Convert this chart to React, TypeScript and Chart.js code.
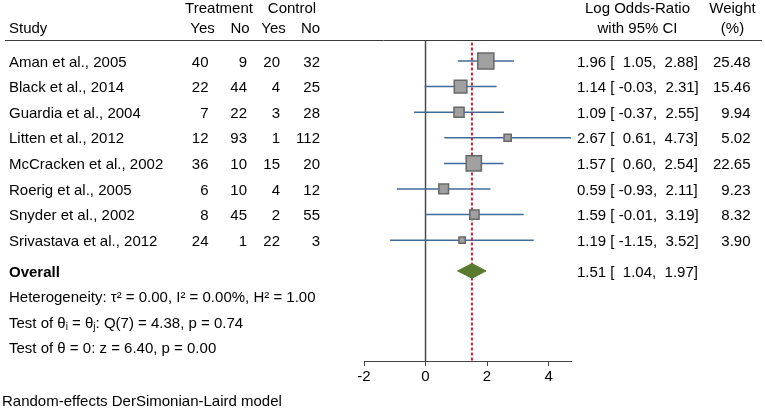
import { useEffect, useRef } from "react";
import { Chart, registerables } from "chart.js";

Chart.register(...registerables);

const FONT = '"Liberation Sans", Arial, Helvetica, sans-serif';

// ---- data ----
const studies = [
  "Aman et al., 2005",
  "Black et al., 2014",
  "Guardia et al., 2004",
  "Litten et al., 2012",
  "McCracken et al., 2002",
  "Roerig et al., 2005",
  "Snyder et al., 2002",
  "Srivastava et al., 2012",
];
const treatYes = [40, 22, 7, 12, 36, 6, 8, 24];
const treatNo = [9, 44, 22, 93, 10, 10, 45, 1];
const ctrlYes = [20, 4, 3, 1, 15, 4, 2, 22];
const ctrlNo = [32, 25, 28, 112, 20, 12, 55, 3];
const logOR = [1.96, 1.14, 1.09, 2.67, 1.57, 0.59, 1.59, 1.19];
const ciLow = [1.05, -0.03, -0.37, 0.61, 0.6, -0.93, -0.01, -1.15];
const ciHigh = [2.88, 2.31, 2.55, 4.73, 2.54, 2.11, 3.19, 3.52];
const weights = [25.48, 15.46, 9.94, 5.02, 22.65, 9.23, 8.32, 3.9];
const overall = [1.51, 1.04, 1.97]; // estimate, low, high
const heterogeneity = [0.0, 0.0, 1.0]; // tau2, I2 (%), H2
const qTest = [7, 4.38, 0.74]; // df, Q, p
const zTest = [6.4, 0.0]; // z, p
const xTickValues = [-2, 0, 2, 4];
const X_MIN = -2;
const X_MAX = 4.73;

// row layout (value units on the hidden y scale)
const Y_MIN = -0.82;
const Y_MAX = 11.72;
const ROW_OVERALL = 8.2;
const TEXT_ROWS = [9.2, 10.2, 11.2];
const DIAMOND_HALF = 0.285;

const f2 = (v: number) => v.toFixed(2);
const p5 = (v: number) => f2(v).padStart(5, " ");

const textPlugin = {
  id: "forestText",
  afterDraw(chart: any) {
    const ctx: CanvasRenderingContext2D = chart.ctx;
    const ys = chart.scales.y;
    const area = chart.chartArea;
    ctx.save();
    // header rule
    ctx.strokeStyle = "#3a3a3a";
    ctx.lineWidth = 1;
    ctx.beginPath();
    ctx.moveTo(5, Math.round(area.top) + 0.5);
    ctx.lineTo(762, Math.round(area.top) + 0.5);
    ctx.stroke();

    ctx.fillStyle = "#000";
    ctx.textBaseline = "middle";
    const normal = `15px ${FONT}`;
    ctx.font = normal;
    const t = (s: string, x: number, y: number, align: CanvasTextAlign) => {
      ctx.textAlign = align;
      ctx.fillText(s, x, y);
    };

    // headers
    t("Treatment", 219, 9, "center");
    t("Control", 292, 9, "center");
    t("Study", 9, 29, "left");
    t("Yes", 202.5, 29, "center");
    t("No", 240, 29, "center");
    t("Yes", 273.5, 29, "center");
    t("No", 310.5, 29, "center");
    t("Log Odds-Ratio", 637.5, 9, "center");
    t("with 95% CI", 637.5, 29, "center");
    t("Weight", 732.5, 9, "center");
    t("(%)", 732.5, 29, "center");

    const ciText = (est: number, lo: number, hi: number, y: number) => {
      t(`${f2(est)} [ ${p5(lo)}, ${p5(hi)}]`, 577, y, "left");
    };

    studies.forEach((s, i) => {
      const y = ys.getPixelForValue(i) + 1.5;
      t(s, 9, y, "left");
      t(String(treatYes[i]), 208.5, y, "right");
      t(String(treatNo[i]), 247, y, "right");
      t(String(ctrlYes[i]), 280, y, "right");
      t(String(ctrlNo[i]), 320, y, "right");
      ciText(logOR[i], ciLow[i], ciHigh[i], y);
      t(f2(weights[i]), 750.5, y, "right");
    });

    const yo = ys.getPixelForValue(ROW_OVERALL) + 1.5;
    ctx.font = `bold 15px ${FONT}`;
    t("Overall", 9, yo, "left");
    ctx.font = normal;
    ciText(overall[0], overall[1], overall[2], yo);

    const rich = (parts: [string, number][], x: number, y: number) => {
      let cx = x;
      ctx.textAlign = "left";
      for (const [s, mode] of parts) {
        ctx.font = mode === 0 ? normal : `10px ${FONT}`;
        ctx.fillText(s, cx, mode === 0 ? y : y + 4);
        cx += ctx.measureText(s).width;
      }
      ctx.font = normal;
    };

    const y1 = ys.getPixelForValue(TEXT_ROWS[0]) + 1.5;
    const y2 = ys.getPixelForValue(TEXT_ROWS[1]) + 1.5;
    const y3 = ys.getPixelForValue(TEXT_ROWS[2]) + 1.5;
    rich(
      [[
        `Heterogeneity: \u03c4\u00b2 = ${f2(heterogeneity[0])}, I\u00b2 = ${f2(heterogeneity[1])}%, H\u00b2 = ${f2(heterogeneity[2])}`,
        0,
      ]],
      9,
      y1
    );
    rich(
      [
        ["Test of \u03b8", 0],
        ["i", 1],
        [" = \u03b8", 0],
        ["j", 1],
        [`: Q(${qTest[0]}) = ${f2(qTest[1])}, p = ${f2(qTest[2])}`, 0],
      ],
      9,
      y2
    );
    rich([[`Test of \u03b8 = 0: z = ${f2(zTest[0])}, p = ${f2(zTest[1])}`, 0]], 9, y3);

    t("Random-effects DerSimonian-Laird model", 2, 402, "left");
    ctx.restore();
  },
};

export default function App() {
  const ref = useRef<HTMLCanvasElement | null>(null);

  useEffect(() => {
    if (!ref.current) return;
    const ciSets = studies.map((_, i) => ({
      type: "scatter" as const,
      data: [
        { x: ciLow[i], y: i },
        { x: ciHigh[i], y: i },
      ],
      showLine: true,
      borderColor: "#3f6a9b",
      borderWidth: 1.5,
      pointRadius: 0,
      order: 3,
    }));

    const chart = new Chart(ref.current, {
      type: "scatter",
      data: {
        datasets: [
          {
            data: logOR.map((v, i) => ({ x: v, y: i })),
            pointStyle: "rect",
            pointRadius: weights.map((w) => (3.2 * Math.sqrt(w)) / Math.SQRT2),
            backgroundColor: "#a0a0a0",
            borderColor: "#686868",
            borderWidth: 1.5,
            order: 0,
          },
          {
            data: [
              { x: overall[1], y: ROW_OVERALL },
              { x: overall[0], y: ROW_OVERALL - DIAMOND_HALF },
              { x: overall[2], y: ROW_OVERALL },
              { x: overall[0], y: ROW_OVERALL + DIAMOND_HALF },
              { x: overall[1], y: ROW_OVERALL },
            ],
            showLine: true,
            fill: "shape",
            backgroundColor: "#5a7b2f",
            borderColor: "#5a7b2f",
            borderWidth: 1,
            pointRadius: 0,
            tension: 0,
            order: 1,
          },
          {
            data: [
              { x: overall[0], y: Y_MIN + 0.1 },
              { x: overall[0], y: Y_MAX },
            ],
            showLine: true,
            borderColor: "#d7263a",
            borderWidth: 2,
            borderDash: [3, 2],
            pointRadius: 0,
            order: 2,
          },
          ...ciSets,
          {
            data: [
              { x: 0, y: Y_MIN },
              { x: 0, y: Y_MAX },
            ],
            showLine: true,
            borderColor: "#4a4a4a",
            borderWidth: 1.5,
            pointRadius: 0,
            order: 4,
          },
        ] as any,
      },
      options: {
        animation: false,
        responsive: false,
        events: [],
        layout: { padding: { left: 364, right: 194, top: 40, bottom: 0 } },
        plugins: { legend: { display: false }, tooltip: { enabled: false } },
        scales: {
          x: {
            type: "linear",
            min: X_MIN,
            max: X_MAX,
            afterBuildTicks: (scale: any) => {
              scale.ticks = xTickValues.map((v) => ({ value: v }));
            },
            afterFit: (scale: any) => {
              scale.height = 49;
            },
            grid: {
              display: true,
              drawOnChartArea: false,
              drawTicks: true,
              tickLength: 5,
              color: "#444",
              lineWidth: 1,
            },
            border: { display: true, color: "#444", width: 1 },
            ticks: {
              font: { family: FONT, size: 15 },
              color: "#000",
              padding: 2,
              autoSkip: false,
              maxRotation: 0,
            },
          },
          y: {
            type: "linear",
            display: false,
            reverse: true,
            min: Y_MIN,
            max: Y_MAX,
          },
        },
      } as any,
      plugins: [textPlugin],
    });
    return () => chart.destroy();
  }, []);

  return (
    <div style={{ position: "fixed", left: 0, top: 0, width: 765, height: 410, background: "#fff" }}>
      <canvas ref={ref} width={765} height={410} style={{ display: "block" }} />
    </div>
  );
}
